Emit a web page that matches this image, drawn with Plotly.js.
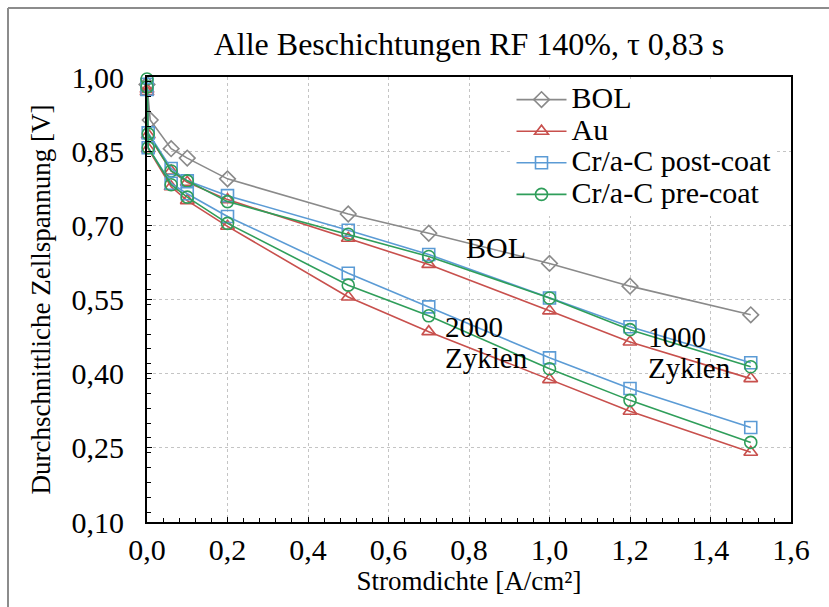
<!DOCTYPE html>
<html>
<head>
<meta charset="utf-8">
<script src="https://cdn.plot.ly/plotly-3.0.1.min.js"></script>
<style>html,body{margin:0;padding:0;background:#fff;}#chart{width:829px;height:607px;}</style>
</head>
<body>
<div id="chart"></div>
<script>
// Current density [A/cm²]
const xBOL = [0, 0.008, 0.06, 0.1, 0.2, 0.5, 0.7, 1.0, 1.2, 1.5];
const xCyc = [0, 0.003, 0.06, 0.1, 0.2, 0.5, 0.7, 1.0, 1.2, 1.5];

// Average cell voltage [V]
const yBOL          = [0.985, 0.913, 0.855, 0.836, 0.794, 0.723, 0.684, 0.623, 0.577, 0.519];
const yAu1000       = [0.975, 0.883, 0.810, 0.787, 0.752, 0.674, 0.621, 0.527, 0.464, 0.390];
const yPost1000     = [0.985, 0.887, 0.815, 0.790, 0.760, 0.690, 0.641, 0.553, 0.495, 0.422];
const yPre1000      = [0.996, 0.885, 0.810, 0.790, 0.748, 0.682, 0.637, 0.553, 0.489, 0.414];
const yAu2000       = [0.970, 0.855, 0.778, 0.750, 0.698, 0.555, 0.485, 0.388, 0.324, 0.241];
const yPost2000     = [0.975, 0.857, 0.785, 0.764, 0.718, 0.603, 0.535, 0.432, 0.370, 0.291];
const yPre2000      = [0.980, 0.857, 0.782, 0.757, 0.704, 0.579, 0.517, 0.410, 0.346, 0.261];

const seriesNames = ["BOL", "Au", "Cr/a-C post-coat", "Cr/a-C pre-coat"];
const xTickVals = [0, 0.2, 0.4, 0.6, 0.8, 1.0, 1.2, 1.4, 1.6];
const yTickVals = [0.10, 0.25, 0.40, 0.55, 0.70, 0.85, 1.00];

const FONT = "Liberation Serif";
const cGrey = "#8a8a8a", cRed = "#c8504d", cBlue = "#5b9bd5", cGreen = "#2f9e5a";

function big(s, px) { return '<span style="font-size:' + px + 'px">' + s + '</span>'; }

function tr(x, y, name, color, symbol, size, show) {
  return {
    x: x, y: y, name: big(name, 30), type: "scatter", mode: "lines+markers",
    legendgroup: name, showlegend: show, cliponaxis: false,
    line: {color: color, width: 1.6},
    marker: {symbol: symbol, size: size, color: color, line: {color: color, width: 1.6}}
  };
}

const data = [
  tr(xBOL, yBOL, seriesNames[0], cGrey, "diamond-open", 12, true),
  tr(xCyc, yAu1000, seriesNames[1], cRed, "triangle-up-open", 12, true),
  tr(xCyc, yPost1000, seriesNames[2], cBlue, "square-open", 12, true),
  tr(xCyc, yPre1000, seriesNames[3], cGreen, "circle-open", 12, true),
  tr(xCyc, yAu2000, seriesNames[1], cRed, "triangle-up-open", 12, false),
  tr(xCyc, yPost2000, seriesNames[2], cBlue, "square-open", 12, false),
  tr(xCyc, yPre2000, seriesNames[3], cGreen, "circle-open", 12, false)
];

function note(text, x, y, anchor, size) {
  return {text: text, x: x, y: y, xref: "x", yref: "y", showarrow: false, borderpad: 0,
          xanchor: anchor, yanchor: "middle", align: "left", font: {family: FONT, size: size, color: "#000"}};
}

const layout = {
  width: 829, height: 607,
  margin: {l: 147, r: 38, t: 77, b: 85},
  paper_bgcolor: "#fff", plot_bgcolor: "#fff",
  separators: ",.",
  font: {family: FONT, color: "#000", size: 24},
  title: {text: "Alle Beschichtungen RF 140%, τ 0,83 s", font: {family: FONT, size: 32, color: "#000"},
          x: 0.5, xref: "paper", y: 1 - 44/607, yref: "container", yanchor: "middle"},
  xaxis: {
    range: [0, 1.6], tickvals: xTickVals, tickformat: ".1f",
    showline: true, linecolor: "#000", linewidth: 2, mirror: true,
    ticks: "inside", ticklen: 5, tickcolor: "#000", ticklabelstandoff: 0,
    showgrid: true, gridcolor: "#c4c4c4", griddash: "dot", gridwidth: 1,
    zeroline: false,
    minor: {dtick: 0.04, ticks: "inside", ticklen: 4, tickcolor: "#000", showgrid: false},
    tickfont: {family: FONT, size: 30},
    title: {text: "Stromdichte [A/cm²]", font: {family: FONT, size: 27}, standoff: 0}
  },
  yaxis: {
    range: [0.10, 1.00], tickvals: yTickVals, tickformat: ".2f",
    showline: true, linecolor: "#000", linewidth: 2, mirror: true,
    ticks: "inside", ticklen: 5, tickcolor: "#000", ticklabelstandoff: 15,
    showgrid: true, gridcolor: "#c4c4c4", griddash: "dot", gridwidth: 1,
    zeroline: false,
    minor: {dtick: 0.03, ticks: "inside", ticklen: 4, tickcolor: "#000", showgrid: false},
    tickfont: {family: FONT, size: 30},
    title: {text: "Durchschnittliche Zellspannung [V]", font: {family: FONT, size: 27}, standoff: 13}
  },
  legend: {x: 0.566, y: 0.996, xanchor: "left", yanchor: "top", bgcolor: "#fff",
           font: {family: FONT, size: 22, color: "#000"}, itemwidth: 50, tracegroupgap: 0},
  annotations: [
    note("BOL", 0.868, 0.655, "center", 30),
    note(big("2000", 29) + "<br>" + big("Zyklen", 29), 0.737, 0.463, "left", 24),
    note(big("1000", 29) + "<br>" + big("Zyklen", 29), 1.243, 0.443, "left", 24)
  ],
  shapes: [
    {type: "line", xref: "paper", yref: "paper", x0: (8-147)/644, x1: (8-147)/644, y0: (522-8)/445, y1: (522-615)/445,
     line: {color: "#8c8c8c", width: 2}},
    {type: "line", xref: "paper", yref: "paper", x0: (8-147)/644, x1: (835-147)/644, y0: (522-8)/445, y1: (522-8)/445,
     line: {color: "#8c8c8c", width: 2}}
  ]
};

Plotly.newPlot("chart", data, layout, {displayModeBar: false, staticPlot: true});
</script>
</body>
</html>
